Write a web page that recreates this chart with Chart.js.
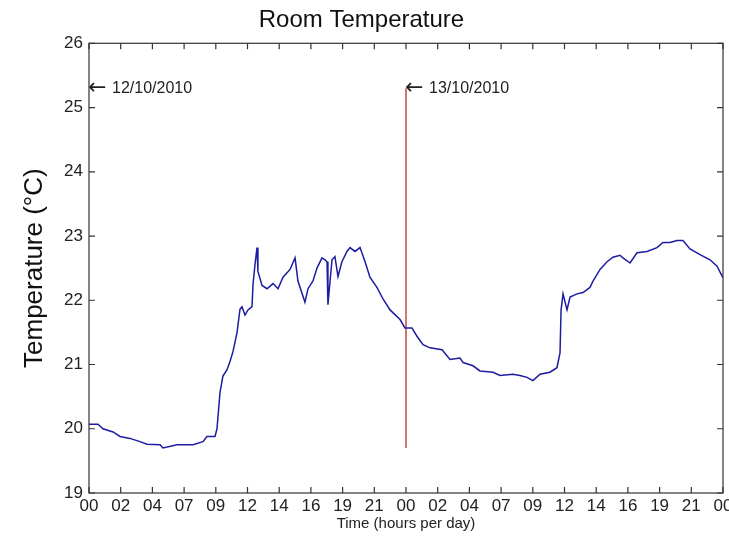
<!DOCTYPE html>
<html>
<head>
<meta charset="utf-8">
<script src="https://cdn.jsdelivr.net/npm/chart.js@4.4.0/dist/chart.umd.min.js"></script>
<style>
  body { margin: 0; background: #fff; }
  #wrap { width: 729px; height: 541px; }
</style>
</head>
<body>
<div id="wrap"><canvas id="temp-chart"></canvas></div>
<script>
// hours since 00:00 on 12/10/2010
const hours = [0, 0.68, 1.06, 1.82, 2.35, 3.1, 3.86, 4.39, 5.38, 5.6, 6.66, 7.87, 8.63, 8.93, 9.54, 9.69,
  9.92, 10.14, 10.45, 10.68, 10.9, 11.21, 11.43, 11.58, 11.81, 12.04, 12.34, 12.42, 12.57, 12.72, 12.79,
  13.1, 13.48, 13.93, 14.31, 14.69, 15.22, 15.6, 15.82, 16.35, 16.58, 16.96, 17.26, 17.64, 17.87, 18.02,
  18.09, 18.25, 18.4, 18.62, 18.85, 19.15, 19.53, 19.76, 20.14, 20.52, 20.9, 21.27, 21.8, 22.26, 22.79,
  23.55, 23.92, 24.45, 24.83, 25.29, 25.82, 26.73, 27.33, 28.09, 28.32, 29.07, 29.6, 30.59, 31.12, 32.1,
  32.63, 33.16, 33.61, 34.15, 34.9, 35.43, 35.66, 35.74, 35.89, 36.19, 36.42, 36.95, 37.4, 37.93, 38.16,
  38.69, 39.22, 39.67, 40.2, 40.43, 40.96, 41.49, 42.25, 43.0, 43.46, 43.99, 44.52, 44.97, 45.5, 46.26,
  47.02, 47.55, 48]
const temps = [20.07, 20.07, 20.0, 19.95, 19.88, 19.85, 19.8, 19.76, 19.75, 19.7, 19.75, 19.75, 19.8, 19.88, 19.88, 20.0,
  20.57, 20.82, 20.92, 21.05, 21.2, 21.5, 21.86, 21.9, 21.77, 21.85, 21.9, 22.25, 22.56, 22.82, 22.45,
  22.23, 22.18, 22.26, 22.18, 22.36, 22.48, 22.66, 22.3, 21.97, 22.18, 22.3, 22.5, 22.66, 22.63, 22.6,
  21.93, 22.3, 22.63, 22.68, 22.37, 22.6, 22.76, 22.82, 22.76, 22.82, 22.6, 22.36, 22.2, 22.02, 21.85,
  21.7, 21.57, 21.57, 21.44, 21.31, 21.26, 21.23, 21.08, 21.1, 21.03, 20.98, 20.9, 20.88, 20.83, 20.85,
  20.83, 20.8, 20.75, 20.85, 20.88, 20.95, 21.18, 21.85, 22.1, 21.85, 22.05, 22.1, 22.12, 22.2, 22.3,
  22.48, 22.6, 22.67, 22.7, 22.66, 22.58, 22.74, 22.76, 22.82, 22.9, 22.9, 22.93, 22.93, 22.8, 22.71,
  22.63, 22.53, 22.35]

// day boundary marker
const markerHours = [24, 24]
const markerTemps = [19.7, 25.3]

const xTickLabels = ['00', '02', '04', '07', '09', '12', '14', '16', '19', '21',
  '00', '02', '04', '07', '09', '12', '14', '16', '19', '21', '00']
const xTickStep = 2.4
const dateNotes = [{ x: 0, y: 25.3, text: '12/10/2010' }, { x: 24, y: 25.3, text: '13/10/2010' }]

const tickFont = { family: "'Liberation Sans', Arial", size: 17 }

// MATLAB style box with inward ticks + date notes
const boxPlugin = {
    id: 'box',
    afterDraw(chart) {
        const ctx = chart.ctx
        const a = chart.chartArea
        const xs = chart.scales.x
        const ys = chart.scales.y
        ctx.save()
        ctx.strokeStyle = '#333'
        ctx.lineWidth = 1.2
        ctx.strokeRect(a.left, a.top, a.right - a.left, a.bottom - a.top)
        ctx.beginPath()
        xs.ticks.forEach(t => {
            let px = xs.getPixelForValue(t.value)
            ctx.moveTo(px, a.bottom); ctx.lineTo(px, a.bottom - 6)
            ctx.moveTo(px, a.top); ctx.lineTo(px, a.top + 6)
        })
        ys.ticks.forEach(t => {
            let py = ys.getPixelForValue(t.value)
            ctx.moveTo(a.left, py); ctx.lineTo(a.left + 6, py)
            ctx.moveTo(a.right, py); ctx.lineTo(a.right - 6, py)
        })
        ctx.stroke()
        ctx.fillStyle = '#222'
        ctx.textBaseline = 'middle'
        dateNotes.forEach(n => {
            let px = xs.getPixelForValue(n.x)
            let py = ys.getPixelForValue(n.y)
            ctx.font = "22px 'DejaVu Sans', Arial"
            ctx.fillText('\u2190', px - 1, py)
            ctx.font = "16px 'Liberation Sans', Arial"
            ctx.fillText(n.text, px + 23, py)
        })
        ctx.restore()
    }
}

let chart = new Chart(document.getElementById('temp-chart'), {
    type: 'line',
    data: {
        datasets: [{
            data: hours.map((h, i) => ({ x: h, y: temps[i] })),
            borderColor: '#1c1ca2',
            borderWidth: 1.5,
            pointRadius: 0,
            tension: 0
        }, {
            data: markerHours.map((h, i) => ({ x: h, y: markerTemps[i] })),
            borderColor: '#cc4444',
            borderWidth: 1.5,
            pointRadius: 0
        }]
    },
    options: {
        responsive: true,
        maintainAspectRatio: false,
        animation: false,
        layout: { padding: { right: 6 } },
        plugins: {
            legend: { display: false },
            tooltip: { enabled: false },
            title: {
                display: true,
                text: 'Room Temperature',
                color: '#111',
                font: { family: "'Liberation Sans', Arial", size: 24, weight: 'normal' },
                padding: { top: 6, bottom: 8.5 }
            }
        },
        scales: {
            x: {
                type: 'linear',
                min: 0,
                max: 48,
                afterBuildTicks: s => { s.ticks = xTickLabels.map((_, i) => ({ value: i * xTickStep })) },
                afterFit: s => { s.height = 48; s.paddingRight = 0 },
                ticks: {
                    autoSkip: false,
                    maxRotation: 0,
                    padding: 3,
                    color: '#222',
                    font: tickFont,
                    callback: (v, i) => xTickLabels[i]
                },
                grid: { display: false, drawTicks: false },
                border: { display: false },
                title: {
                    display: true,
                    text: 'Time (hours per day)',
                    color: '#222',
                    font: { family: "'Liberation Sans', Arial", size: 15 },
                    padding: { top: 0, bottom: 8 }
                }
            },
            y: {
                min: 19,
                max: 26,
                afterFit: s => { s.width = 89 },
                ticks: {
                    stepSize: 1,
                    padding: 6,
                    color: '#222',
                    font: tickFont
                },
                grid: { display: false, drawTicks: false },
                border: { display: false },
                title: {
                    display: true,
                    text: 'Temperature (\u00B0C)',
                    color: '#111',
                    font: { family: "'Liberation Sans', Arial", size: 26 },
                    padding: { top: 19, bottom: 0 }
                }
            }
        }
    },
    plugins: [boxPlugin]
})
</script>
</body>
</html>
